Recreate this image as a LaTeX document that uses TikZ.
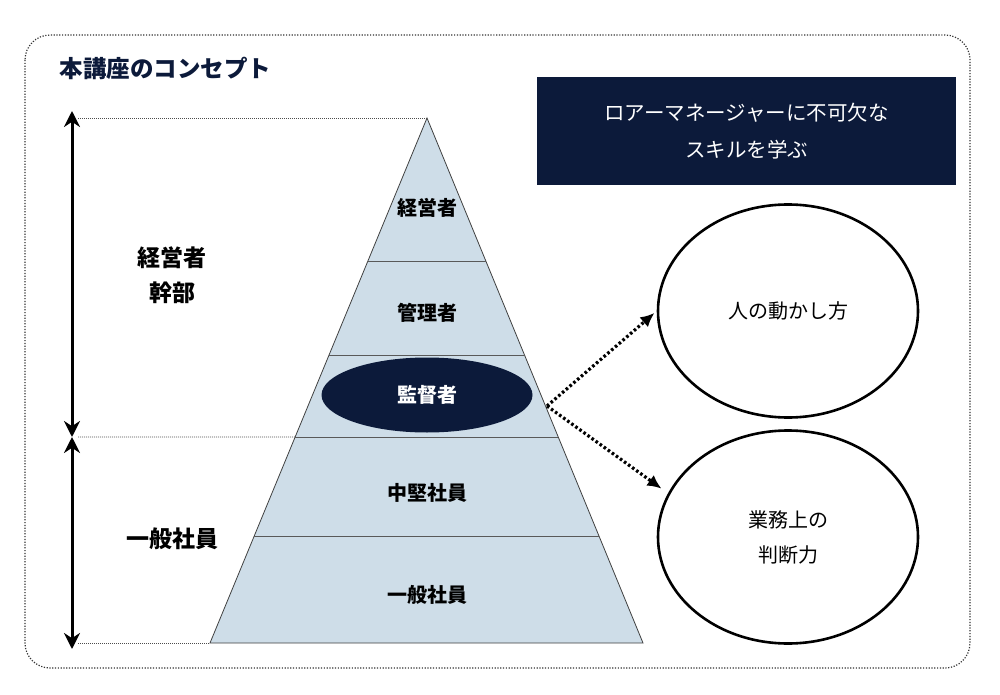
\documentclass[tikz,border=0pt]{standalone}
\usepackage{fontspec}
\setmainfont{Noto Sans CJK JP}
\usetikzlibrary{arrows.meta,shapes.geometric,calc}
\definecolor{navy}{RGB}{12,26,58}
\definecolor{layerblue}{RGB}{206,221,232}
\tikzset{
  layerlabel/.style={font=\bfseries\fontsize{20}{24}\selectfont},
  sidelabel/.style={font=\bfseries\fontsize{23}{35}\selectfont, align=center},
  skill/.style={ellipse, draw, line width=2.6pt, minimum width=260pt, minimum height=213pt,
    align=center, font=\fontsize{20}{35}\selectfont},
  guide/.style={line width=0.7pt, black!70, dash pattern=on 1pt off 1pt},
  span/.style={line width=3pt, {Stealth[length=16pt,width=16pt]}-{Stealth[length=16pt,width=16pt]}},
  dotarrow/.style={line width=3.2pt, dash pattern=on 2.6pt off 2.4pt, -{Latex[length=14pt,width=13pt]}}
}
\begin{document}
\begin{tikzpicture}[x=1pt,y=-1pt]
\useasboundingbox (0,0) rectangle (1000,695);
% frame and title
\draw[line width=1.2pt, black!80, dash pattern=on 1.2pt off 1.6pt, rounded corners=25pt] (25,35) rectangle (970,668);
\node[anchor=west, text=navy, font=\bfseries\fontsize{23.5}{26}\selectfont] (title) at (56,68) {本講座のコンセプト};
\node[fill=navy, text=white, minimum width=419pt, minimum height=108pt, align=center,
  font=\fontsize{20.5}{37}\selectfont] (goal) at (746.5,131) {ロアーマネージャーに不可欠な\\スキルを学ぶ};

% pyramid
\coordinate (apex) at (427,118);
\coordinate (bl) at (210,643);
\coordinate (br) at (643,643);
\draw[fill=layerblue, draw=black!75, line width=0.8pt] (apex) -- (br) -- (bl) -- cycle;
\foreach \y [evaluate=\y as \t using (\y-118)/525] in {261,355,437,536}
{
	\draw[black!65, line width=0.9pt] ($(apex)!\t!(bl)$) -- ($(apex)!\t!(br)$);
}
\foreach \y / \txt / \nm in {208/経営者/exec, 313/管理者/mgr, 493/中堅社員/mid, 595/一般社員/staff}
{
	\node[layerlabel] (\nm) at (427,\y) {\txt};
}
\node[ellipse, fill=navy, text=white, minimum width=211pt, minimum height=75pt, layerlabel] (supv) at (427,395) {監督者};

% left spans
\coordinate (top) at (72,111);
\coordinate (midd) at (72,437);
\coordinate (bot) at (72,649);
\coordinate (cut) at ($(apex)!{319/525}!(bl)$);
\draw[span] (top) -- (midd);
\draw[span] (midd) -- (bot);
\draw[guide] (78,118) -- (apex);
\draw[guide] (78,437) -- (cut);
\draw[guide] (78,643) -- (bl);
\node[sidelabel] (upper) at (172,275) {経営者\\幹部};
\node[sidelabel] (lower) at (172,539) {一般社員};

% skills
\node[skill] (people) at (788,311) {人の動かし方};
\node[skill] (judge) at (788,537) {業務上の\\判断力};
\coordinate (src) at (547,406);
\draw[dotarrow, shorten >=3pt] (src) -- (people.west);
\draw[dotarrow, shorten >=8pt] (src) -- (judge.160);
\end{tikzpicture}
\end{document}
